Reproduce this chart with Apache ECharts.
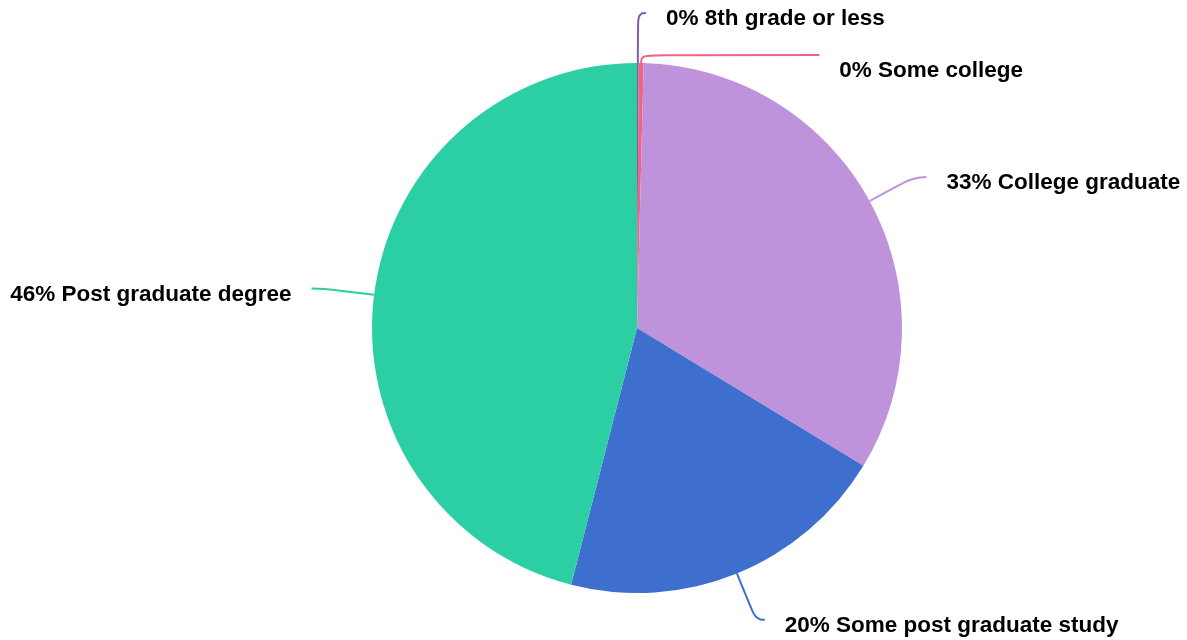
<!DOCTYPE html>
<html><head><meta charset="utf-8">
<script src="https://cdn.jsdelivr.net/npm/echarts@6/dist/echarts.min.js"></script>
<style>html,body{margin:0;padding:0;background:#fff}#c{width:1187px;height:640px}</style>
</head><body><div id="c"></div>
<script>
var categories = ["8th grade or less", "Some college", "College graduate", "Some post graduate study", "Post graduate degree"];
var values = [0.1, 0.3, 33.3, 20.3, 46.0];
var colors = ["#7e5fa6", "#ee6482", "#bf93db", "#3e6fcf", "#2ccfa4"];
var lineLengths = [[50, 8], [8, 178], [50, 13], [50, 9], [50, 13]];
var labelShift = [6, 16, 6, 6, 6];

var chart = echarts.init(document.getElementById('c'));
chart.setOption({
  animation: false,
  color: colors,
  series: [{
    type: 'pie',
    center: [637, 328],
    radius: 265,
    startAngle: 90,
    clockwise: true,
    avoidLabelOverlap: true,
    itemStyle: { borderWidth: 0 },
    label: {
      show: true,
      overflow: 'none',
      fontFamily: 'Liberation Sans, Arial, sans-serif',
      fontWeight: 'bold',
      fontSize: 22.5,
      color: '#000',
      distanceToLabelLine: 20,
      formatter: function (p) { return Math.round(p.percent) + '% ' + p.name; }
    },
    labelLayout: function (p) { return { dy: labelShift[p.dataIndex] }; },
    labelLine: { show: true, smooth: 0.5, length: 50, length2: 8, lineStyle: { width: 2 } },
    data: categories.map(function (c, i) {
      return { name: c, value: values[i], labelLine: { length: lineLengths[i][0], length2: lineLengths[i][1] } };
    })
  }]
});
</script></body></html>
